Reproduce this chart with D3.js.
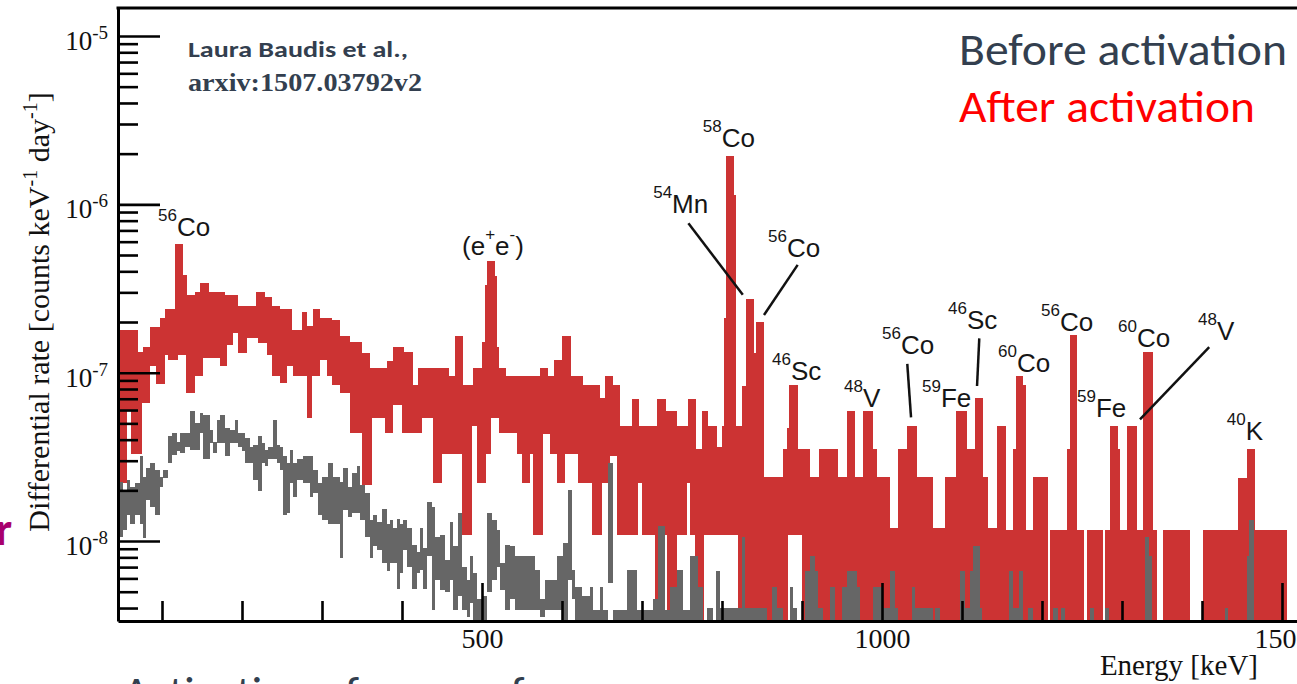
<!doctype html>
<html>
<head>
<meta charset="utf-8">
<script src="https://d3js.org/d3.v7.min.js"></script>
<style>
body { margin: 0; background: #fff; overflow: hidden; }
text { font-kerning: normal; }
</style>
</head>
<body>
<script>
var width = 1297, height = 684;

// axis ticks
var xMajor = [500, 1000, 1500];
var yDecades = [1e-8, 1e-7, 1e-6, 1e-5];
var yExpLabels = ["-8", "-7", "-6", "-5"];

// after activation (red): upper edge of the error boxes, as steps starting at E (keV)
var redTopE = [40, 70.4, 76.7, 85, 97.5, 103.8, 116, 126.7, 131.7, 141, 147.5, 159, 178.8, 194.6, 218, 228.8, 237, 247.5, 262, 274.6,
  281, 289, 297.5, 312, 322.5, 335, 349.6, 360, 381, 389, 397.5, 402.5, 414.2, 420.4, 459.2, 466.3, 476.7, 489.2, 499.6, 503.8,
  506.7, 516.3, 519.2, 521.7, 530, 572.5, 583, 590, 600.4, 610.8, 626.7, 647.5, 653.8, 664.2, 672.5, 687, 696.7, 718.3, 729.6, 743.3,
  758, 767.5, 774.6, 783, 793.3, 799.6, 803, 805, 815, 817, 824.6, 830, 840, 842.5, 852.5, 876.7, 881, 884, 895.4, 910,
  921.7, 945.4, 955.8, 966.3, 976.7, 988.3, 993.3, 1010, 1020.4, 1030.8, 1044.2, 1064.2, 1078.8, 1092.5, 1105.8, 1116.3, 1126.7, 1133, 1143.3, 1155,
  1163.3, 1167.5, 1176.7, 1180, 1188.3, 1208, 1210, 1231.7, 1235, 1243.3, 1253, 1256, 1276.7, 1278.8, 1285, 1295.4, 1297.5, 1306, 1318.3, 1326.7,
  1338.3, 1343.3, 1351.7, 1385, 1401.7, 1445.4, 1456.7, 1466.3, 1506];
var redTopV = [1.8e-7, 1.32e-7, 1.43e-7, 1.88e-7, 2.1e-7, 2.4e-7, 5.8e-7, 3.8e-7, 2.9e-7, 3.0e-7, 3.4e-7, 3.0e-7, 2.9e-7, 2.5e-7, 3.0e-7, 2.8e-7, 2.5e-7, 2.4e-7, 1.8e-7, 2.3e-7,
  1.9e-7, 2.4e-7, 2.1e-7, 2.05e-7, 1.66e-7, 1.53e-7, 1.31e-7, 1.07e-7, 1.18e-7, 1.43e-7, 1.43e-7, 1.32e-7, 8.5e-8, 1.07e-7, 9.5e-8, 1.66e-7, 8.5e-8, 1.07e-7, 1.53e-7, 3.33e-7,
  4.6e-7, 3.73e-7, 1.43e-7, 1.07e-7, 9.5e-8, 1.07e-7, 9.5e-8, 1.19e-7, 1.66e-7, 9.5e-8, 8.5e-8, 7.1e-8, 9.5e-8, 8.5e-8, 4.8e-8, 7.0e-8, 4.8e-8, 7.0e-8, 5.9e-8, 4.8e-8,
  7.0e-8, 3.5e-8, 5.9e-8, 4.8e-8, 3.6e-8, 4.8e-8, 2.1e-7, 1.93e-6, 1.14e-6, 4.8e-8, 8.3e-8, 2.74e-7, 1.31e-7, 2.0e-7, 2.4e-8, 3.5e-8, 4.7e-8, 8.4e-8, 3.5e-8, 2.4e-8,
  3.5e-8, 2.4e-8, 5.9e-8, 2.4e-8, 5.9e-8, 3.5e-8, 2.4e-8, 1.19e-8, 3.5e-8, 4.8e-8, 2.4e-8, 1.19e-8, 2.4e-8, 5.9e-8, 3.5e-8, 7.1e-8, 2.4e-8, 1.19e-8, 4.8e-8, 1.17e-8,
  3.5e-8, 9.5e-8, 8.4e-8, 1.17e-8, 2.4e-8, 0, 1.17e-8, 3.5e-8, 1.68e-7, 1.17e-8, 0, 1.17e-8, 0, 1.17e-8, 4.8e-8, 3.5e-8, 1.17e-8, 4.8e-8, 1.17e-8, 1.32e-7,
  1.17e-8, 0, 1.17e-8, 0, 1.17e-8, 2.37e-8, 3.5e-8, 1.17e-8, 0];
// lower edge of the red boxes; 0 = box reaches the axis
var redLowE = [40, 55.8, 60.8, 74.6, 85, 92.5, 103.8, 108, 120, 130, 141, 151.7, 172.5, 180.8, 188.3, 195.4, 205.8, 220.4, 230.8, 237,
  247.5, 255.8, 264, 281, 287, 297.5, 306, 313, 322.5, 335, 349.6, 362, 378.8, 389, 399.6, 424.6, 439.2, 449.6, 474.6, 487,
  494.2, 505, 510.8, 521.7, 543.3, 549.6, 560, 564.2, 575.8, 585, 593.3, 603.8, 620.4, 637, 649.6, 660, 668.3, 695.4, 699.6, 716.3,
  726.7, 730.8, 743.3, 755.8, 760, 766, 777, 820, 883, 900];
var redLowV = [2.2e-8, 6.0e-8, 3.3e-8, 6.6e-8, 1.09e-7, 8.6e-8, 1.28e-7, 1.19e-7, 1.28e-7, 7.6e-8, 9.5e-8, 1.22e-7, 1.09e-7, 1.47e-7, 1.72e-7, 1.31e-7, 1.61e-7, 1.5e-7, 1.28e-7, 9.5e-8,
  8.7e-8, 1.09e-7, 9.5e-8, 5.4e-8, 9.5e-8, 1.19e-7, 9.5e-8, 8.5e-8, 7.6e-8, 4.4e-8, 2.15e-8, 5.4e-8, 4.4e-8, 6.45e-8, 4.4e-8, 5.4e-8, 2.2e-8, 3.3e-8, 1.08e-8, 4.8e-8,
  2.2e-8, 3.3e-8, 5.4e-8, 4.4e-8, 3.3e-8, 2.2e-8, 3.3e-8, 1.08e-8, 4.3e-8, 3.3e-8, 2.2e-8, 3.3e-8, 2.2e-8, 1.08e-8, 2.2e-8, 3.2e-8, 1.08e-8, 2.2e-8, 1.08e-8, 0,
  1.08e-8, 0, 1.08e-8, 2.2e-8, 1.08e-8, 0, 1.08e-8, 0, 1.08e-8, 0];
var redEnd = 1530;

// before activation (gray): bin start (keV), upper and lower edge
var grayE = [40, 51.7, 55.8, 60, 66.3, 72.5, 76.7, 80, 85, 91.3, 97.5, 101.7, 108, 112, 118.3, 122.5, 128.8, 135, 141.3, 147.5,
  151.7, 160, 164.2, 168.3, 172.5, 178.8, 185, 191.3, 195.4, 199.6, 203.8, 210, 214.2, 220.4, 224.6, 228.8, 233, 239, 243.3, 247.5,
  251.7, 255.8, 260, 264.2, 268.3, 276.7, 285, 289.2, 295.4, 299.6, 308, 314.2, 322.5, 326.7, 333, 337, 343.3, 347.5, 353.8, 360,
  364.2, 368.3, 374.6, 380.8, 385, 389.2, 393.3, 397.5, 401.7, 405.8, 412, 418.3, 422.5, 426.7, 430.8, 437, 441.3, 447.5, 453.8, 460,
  464.2, 470.4, 474.6, 480.8, 485, 489.2, 493.3, 499.6, 505.8, 512, 518.3, 522.5, 528.8, 535, 541.3, 566.3, 572.5, 578.8, 593.3, 601.7,
  608, 612, 616.3, 624.6, 635, 639.2, 647.5, 651.7, 658, 664.2, 681, 693.3, 714.2, 720.4, 728.8, 735, 743.3, 751.7, 760, 770.4,
  776.7, 780.8, 789.2, 792.5, 797.5, 824.6, 828.8, 855.8, 862, 868.3, 876.7, 885, 889.2, 893.3, 903.8, 910, 916.3, 920.4, 926.7, 935,
  941.3, 949.6, 955.8, 968.3, 972.5, 989, 999.6, 1010, 1016.3, 1020.4, 1037, 1041.3, 1064, 1066, 1072.5, 1097.5, 1103.8, 1110, 1114.2, 1122.5,
  1124.6, 1158.8, 1164.2, 1171.7, 1176.7, 1183, 1188.3, 1214, 1219.6, 1223.8, 1229.2, 1260, 1265.4, 1278.8, 1284.2, 1328.8, 1333.8, 1337, 1428.8, 1433,
  1456.7, 1459.2, 1465];
var grayHi = [2.25e-8, 2.0e-8, 2.3e-8, 2.1e-8, 2.2e-8, 3.19e-8, 2.41e-8, 2.7e-8, 2.9e-8, 2.64e-8, 2.41e-8, 2.64e-8, 4.19e-8, 4.37e-8, 3.89e-8, 4.37e-8, 4.37e-8, 5.89e-8, 5.0e-8, 5.76e-8,
  5.64e-8, 4.58e-8, 3.89e-8, 5.25e-8, 5.64e-8, 4.67e-8, 4.58e-8, 5.25e-8, 4.37e-8, 4.37e-8, 4.12e-8, 3.64e-8, 3.72e-8, 4.19e-8, 3.8e-8, 3.49e-8, 3.64e-8, 5.25e-8, 3.72e-8, 3.64e-8,
  3.19e-8, 2.9e-8, 3.49e-8, 2.9e-8, 3.06e-8, 3.19e-8, 3.19e-8, 2.64e-8, 2.2e-8, 2.41e-8, 2.9e-8, 2.41e-8, 2.25e-8, 2.7e-8, 2.1e-8, 2.52e-8, 2.8e-8, 2.15e-8, 1.92e-8, 1.33e-8,
  1.43e-8, 1.3e-8, 1.56e-8, 1.27e-8, 1.33e-8, 1.19e-8, 1.36e-8, 1.27e-8, 1.33e-8, 1.19e-8, 9.5e-9, 8.6e-9, 1.19e-8, 9.05e-9, 1.71e-8, 1.6e-8, 1.06e-8, 1.08e-8, 7.7e-9, 1.3e-8,
  9.3e-9, 1.46e-8, 7.0e-9, 5.9e-9, 8.1e-9, 6.5e-9, 4.5e-9, 4.7e-9, 1.46e-8, 1.33e-8, 1.16e-8, 7.4e-9, 9.5e-9, 9.3e-9, 8.1e-9, 6.7e-9, 4.5e-9, 5.9e-9, 8.1e-9, 9.7e-9,
  2.0e-8, 6.7e-9, 5.35e-9, 4.7e-9, 5.35e-9, 3.9e-9, 5.35e-9, 3.9e-9, 2.9e-8, 3.9e-9, 6.7e-9, 3.9e-9, 4.5e-9, 1.22e-8, 3.9e-9, 5.35e-9, 6.7e-9, 3.9e-9, 8.1e-9, 5.35e-9,
  0, 4.0e-9, 0, 6.6e-9, 4.0e-9, 1.06e-8, 4.0e-9, 0, 5.35e-9, 4.0e-9, 0, 5.35e-9, 4.0e-9, 0, 6.6e-9, 8.1e-9, 6.6e-9, 4.0e-9, 0, 5.35e-9,
  0, 5.35e-9, 6.6e-9, 5.35e-9, 0, 5.35e-9, 4.0e-9, 6.6e-9, 4.0e-9, 0, 5.35e-9, 4.0e-9, 0, 4.0e-9, 0, 6.6e-9, 4.0e-9, 6.6e-9, 9.4e-9, 4.0e-9,
  0, 6.6e-9, 4.0e-9, 6.6e-9, 0, 4.0e-9, 0, 4.0e-9, 0, 4.0e-9, 0, 4.0e-9, 0, 4.0e-9, 0, 1.06e-8, 8.1e-9, 0, 4.0e-9, 0,
  8.1e-9, 1.33e-8, 0];
var grayLo = [1.06e-8, 1.16e-8, 1.43e-8, 1.27e-8, 1.43e-8, 1.27e-8, 1.04e-8, 1.75e-8, 1.6e-8, 1.43e-8, 2.1e-8, 2.36e-8, 2.9e-8, 3.26e-8, 3.41e-8, 3.34e-8, 3.64e-8, 3.49e-8, 3.49e-8, 4.37e-8,
  3.06e-8, 3.8e-8, 3.34e-8, 3.8e-8, 3.8e-8, 3.19e-8, 3.8e-8, 3.8e-8, 3.64e-8, 3.41e-8, 2.9e-8, 2.9e-8, 2.3e-8, 1.97e-8, 2.9e-8, 2.8e-8, 3.06e-8, 3.06e-8, 2.9e-8, 2.64e-8,
  1.43e-8, 1.46e-8, 2.2e-8, 1.83e-8, 2.3e-8, 2.2e-8, 1.83e-8, 1.92e-8, 1.43e-8, 1.33e-8, 1.27e-8, 1.27e-8, 7.9e-9, 1.53e-8, 1.39e-8, 1.46e-8, 1.46e-8, 1.33e-8, 1.06e-8, 7.9e-9,
  9.3e-9, 8.8e-9, 7.4e-9, 6.6e-9, 7.4e-9, 7.4e-9, 5.2e-9, 6.5e-9, 8.8e-9, 7.0e-9, 5.2e-9, 6.5e-9, 6.7e-9, 5.2e-9, 8.1e-9, 3.9e-9, 5.9e-9, 5.1e-9, 5.0e-9, 5.9e-9,
  3.9e-9, 4.7e-9, 3.9e-9, 3.55e-9, 4.3e-9, 0, 0, 0, 5.0e-9, 5.9e-9, 7.0e-9, 5.1e-9, 3.9e-9, 4.5e-9, 3.9e-9, 3.9e-9, 3.55e-9, 3.9e-9, 3.9e-9, 0,
  5.9e-9, 4.5e-9, 0, 0, 0, 0, 0, 0, 5.6e-9, 0, 0, 0, 0, 0, 0, 0, 0, 0, 0, 0,
  0, 0, 0, 0, 0, 0, 0, 0, 0, 0, 0, 0, 0, 0, 0, 0, 0, 0, 0, 0,
  0, 0, 0, 0, 0, 0, 0, 0, 0, 0, 0, 0, 0, 0, 0, 0, 0, 0, 0, 0,
  0, 0, 0, 0, 0, 0, 0, 0, 0, 0, 0, 0, 0, 0, 0, 0, 0, 0, 0, 0,
  0, 0, 0];

// isotope labels: [text, superscript?] parts, anchored at (keV, rate) of the baseline start
var isoText = [
  [["56", 1], ["Co", 0]], [["(e", 0], ["+", 1], ["e", 0], ["-", 1], [")", 0]], [["58", 1], ["Co", 0]], [["54", 1], ["Mn", 0]],
  [["56", 1], ["Co", 0]], [["46", 1], ["Sc", 0]], [["48", 1], ["V", 0]], [["56", 1], ["Co", 0]], [["46", 1], ["Sc", 0]],
  [["59", 1], ["Fe", 0]], [["60", 1], ["Co", 0]], [["56", 1], ["Co", 0]], [["60", 1], ["Co", 0]], [["59", 1], ["Fe", 0]],
  [["48", 1], ["V", 0]], [["40", 1], ["K", 0]]];
var isoE = [95, 475, 776, 714, 857.5, 862.5, 952.5, 1000, 1082.5, 1050, 1145, 1198.8, 1295, 1243.8, 1395, 1431];
var isoR = [6.49e-7, 5.0e-7, 2.19e-6, 8.9e-7, 4.87e-7, 9.05e-8, 6.25e-8, 1.29e-7, 1.82e-7, 6.25e-8, 1.01e-7, 1.77e-7, 1.42e-7, 5.46e-8, 1.56e-7, 3.98e-8];
// leader lines [E1, r1, E2, r2]
var leaders = [[758, 7.73e-7, 826, 2.9e-7], [894.6, 4.37e-7, 852.5, 2.2e-7], [1031.6, 1.127e-7, 1036.3, 5.43e-8],
  [1121.6, 1.6e-7, 1118.8, 8.34e-8], [1409, 1.42e-7, 1322.5, 5.28e-8]];

var svg = d3.select("body").append("svg")
  .attr("width", width)
  .attr("height", height);

var x = d3.scaleLinear().domain([45, 1535]).range([118, 1310]);
var y = d3.scaleLog().domain([3.35e-9, 1.466e-5]).range([621, 8]).clamp(true);
var yBottom = y.range()[0];

svg.append("clipPath").attr("id", "plot")
  .append("rect").attr("x", 118).attr("y", 8).attr("width", 1200).attr("height", 613);

// step function lookup
function stepAt(E, V, e) {
  var i = d3.bisectRight(E, e) - 1;
  return i < 0 ? 0 : V[i];
}

// red boxes from the union of top and bottom breakpoints
var edges = Array.from(new Set(redTopE.concat(redLowE, [redEnd]))).sort(d3.ascending);
var redBins = [];
for (var i = 0; i < edges.length - 1; i++) {
  var mid = (edges[i] + edges[i + 1]) / 2;
  var hi = stepAt(redTopE, redTopV, mid), lo = stepAt(redLowE, redLowV, mid);
  if (hi > 0 && hi > lo) redBins.push({e0: edges[i], e1: edges[i + 1], hi: hi, lo: lo});
}

var grayBins = [];
for (var j = 0; j < grayE.length - 1; j++) {
  if (grayHi[j] > 0) grayBins.push({e0: grayE[j], e1: grayE[j + 1], hi: grayHi[j], lo: grayLo[j]});
}

var plot = svg.append("g").attr("clip-path", "url(#plot)");

function boxes(data, color) {
  plot.append("g").selectAll("rect")
    .data(data)
    .enter()
    .append("rect")
    .attr("x", function (d) { return x(d.e0); })
    .attr("width", function (d) { return x(d.e1) - x(d.e0); })
    .attr("y", function (d) { return y(d.hi); })
    .attr("height", function (d) { return (d.lo > 0 ? y(d.lo) : yBottom) - y(d.hi); })
    .attr("fill", color)
    .attr("shape-rendering", "crispEdges");
}
boxes(redBins, "#cc3333");
boxes(grayBins, "#666666");

// axes
var minorY = y.ticks().filter(function (d) { return yDecades.indexOf(d) < 0 && Math.abs(Math.log10(d) - Math.round(Math.log10(d))) > 1e-6; });
var minorX = x.ticks(15).filter(function (d) { return d % 500 != 0; });

var gy = svg.append("g").attr("transform", "translate(118,0)");
gy.call(d3.axisLeft(y).tickValues(yDecades).tickSizeInner(-42).tickSizeOuter(0).tickFormat(""));
gy.append("g").call(d3.axisLeft(y).tickValues(minorY).tickSizeInner(-20).tickSizeOuter(0).tickFormat(""))
  .select(".domain").remove();

var gx = svg.append("g").attr("transform", "translate(0,621)");
gx.call(d3.axisBottom(x).tickValues(xMajor).tickSizeInner(-38).tickSizeOuter(0).tickPadding(7).tickFormat(d3.format("d")));
gx.append("g").call(d3.axisBottom(x).tickValues(minorX).tickSizeInner(-20).tickSizeOuter(0).tickFormat(""))
  .select(".domain").remove();

svg.selectAll(".domain").attr("stroke", "#000").attr("stroke-width", 3);
svg.selectAll(".tick line").attr("stroke", "#000").attr("stroke-width", 2.6);
gx.selectAll(".tick text").attr("font-family", "'Liberation Serif', serif").attr("font-size", 28).attr("fill", "#111");

// top frame
svg.append("line").attr("x1", 116.5).attr("x2", width).attr("y1", 8).attr("y2", 8)
  .attr("stroke", "#000").attr("stroke-width", 3);

// y tick labels 10^n
yDecades.forEach(function (d, k) {
  var t = svg.append("text")
    .attr("x", 108).attr("y", y(d) + 14)
    .attr("text-anchor", "end")
    .attr("font-family", "'Liberation Serif', serif")
    .attr("font-size", 27).attr("fill", "#111");
  t.append("tspan").text("10");
  t.append("tspan").attr("font-size", 19).attr("dy", -11).text(yExpLabels[k]);
});

// y title
var yt = svg.append("text")
  .attr("transform", "translate(49,312) rotate(-90)")
  .attr("text-anchor", "middle")
  .attr("font-family", "'Liberation Serif', serif")
  .attr("font-size", 30).attr("fill", "#111");
yt.append("tspan").text("Differential rate [counts keV");
yt.append("tspan").attr("font-size", 20).attr("dy", -12).text("-1");
yt.append("tspan").attr("dy", 12).text(" day");
yt.append("tspan").attr("font-size", 20).attr("dy", -12).text("-1");
yt.append("tspan").attr("dy", 12).text("]");

// x title
svg.append("text")
  .attr("x", 1258).attr("y", 675)
  .attr("text-anchor", "end")
  .attr("font-family", "'Liberation Serif', serif")
  .attr("font-size", 29).attr("fill", "#111")
  .text("Energy [keV]");

// isotope labels
isoText.forEach(function (parts, k) {
  var t = svg.append("text")
    .attr("x", x(isoE[k])).attr("y", y(isoR[k]))
    .attr("font-family", "'Liberation Sans', Arial, sans-serif")
    .attr("font-size", 26).attr("fill", "#161616");
  var level = 0;
  parts.forEach(function (p) {
    var dy = 0;
    if (p[1] && !level) dy = -15;
    if (!p[1] && level) dy = 15;
    level = p[1];
    t.append("tspan").attr("dy", dy).attr("font-size", p[1] ? 17 : 26).text(p[0]);
  });
});

svg.selectAll(".leader")
  .data(leaders)
  .enter()
  .append("line")
  .attr("class", "leader")
  .attr("x1", function (d) { return x(d[0]); })
  .attr("y1", function (d) { return y(d[1]); })
  .attr("x2", function (d) { return x(d[2]); })
  .attr("y2", function (d) { return y(d[3]); })
  .attr("stroke", "#111")
  .attr("stroke-width", 2.5);

// slide texts
var slate = "#333f4f";
var calibri = "Carlito, Calibri, Lato, 'Open Sans', sans-serif";
svg.append("text").attr("x", 188).attr("y", 57)
  .attr("font-family", calibri).attr("font-weight", "bold").attr("font-size", 23)
  .attr("fill", slate).attr("textLength", 220).attr("lengthAdjust", "spacingAndGlyphs")
  .text("Laura Baudis et al.,");
svg.append("text").attr("x", 188).attr("y", 91)
  .attr("font-family", "'Liberation Serif', serif").attr("font-weight", "bold").attr("font-size", 26)
  .attr("fill", slate).attr("textLength", 234).attr("lengthAdjust", "spacingAndGlyphs")
  .text("arxiv:1507.03792v2");
svg.append("text").attr("x", 959).attr("y", 65)
  .attr("font-family", calibri).attr("font-size", 46)
  .attr("fill", slate).attr("textLength", 328).attr("lengthAdjust", "spacingAndGlyphs")
  .text("Before activation");
svg.append("text").attr("x", 959).attr("y", 122)
  .attr("font-family", calibri).attr("font-size", 46)
  .attr("fill", "#ff0000").attr("textLength", 296).attr("lengthAdjust", "spacingAndGlyphs")
  .text("After activation");
svg.append("text").attr("x", 123).attr("y", 708)
  .attr("font-family", calibri).attr("font-size", 46)
  .attr("fill", slate)
  .text("Activation of copper for");
svg.append("text").attr("x", 12).attr("y", 545)
  .attr("text-anchor", "end")
  .attr("font-family", calibri).attr("font-weight", "bold").attr("font-size", 46)
  .attr("fill", "#a8006e")
  .text("r");
</script>
</body>
</html>
